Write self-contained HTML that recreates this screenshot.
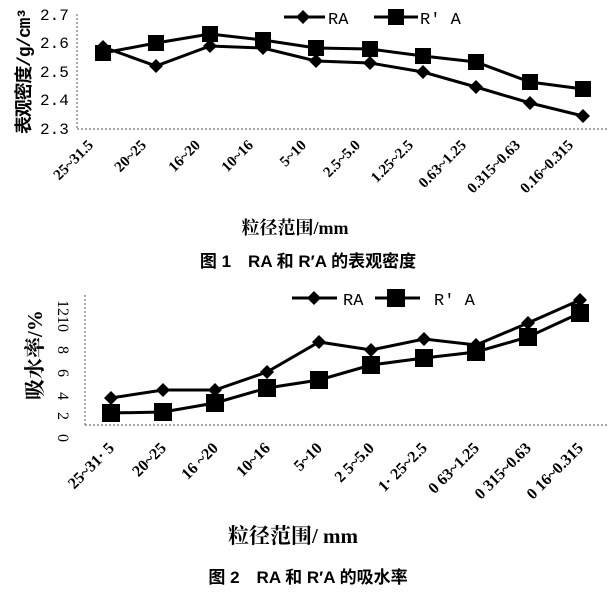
<!DOCTYPE html>
<html><head><meta charset="utf-8"><style>
html,body{margin:0;padding:0;background:#fff;}
svg{display:block;}
.m{font-family:"Liberation Mono","Noto Sans CJK SC",monospace;}
.s{font-family:"Liberation Serif","Noto Serif CJK SC",serif;}
.c{font-family:"Liberation Sans","Noto Sans CJK SC",sans-serif;font-weight:bold;}
</style></head><body>
<svg width="609" height="593" viewBox="0 0 609 593" xmlns="http://www.w3.org/2000/svg">
<!-- Chart 1 -->
<g stroke="#555" stroke-width="1" stroke-dasharray="2,2" fill="none">
<line x1="77" y1="14" x2="77" y2="129"/>
<line x1="77" y1="129" x2="609" y2="129"/>
</g>
<g class="m" font-size="16" fill="#000">
<text x="40" y="20">2.7</text><text x="40" y="48">2.6</text><text x="40" y="77">2.5</text><text x="40" y="105">2.4</text><text x="40" y="134">2.3</text>
</g>
<text class="m" font-size="18" font-weight="bold" transform="translate(30,134) rotate(-90)" fill="#000" textLength="126">表观密度/g/cm³</text>
<polyline fill="none" stroke="#000" stroke-width="3" points="103,47 156,66 210,46 263,48 316,61 370,63 423,72 476,87 530,103 583,116"/>
<polyline fill="none" stroke="#000" stroke-width="3" points="103,53 156,43 210,34 263,40 316,48 370,49 423,56 476,62 530,82 583,89"/>
<g fill="#000">
<path d="M103,40l7,7l-7,7l-7,-7z"/><path d="M156,59l7,7l-7,7l-7,-7z"/><path d="M210,39l7,7l-7,7l-7,-7z"/><path d="M263,41l7,7l-7,7l-7,-7z"/><path d="M316,54l7,7l-7,7l-7,-7z"/><path d="M370,56l7,7l-7,7l-7,-7z"/><path d="M423,65l7,7l-7,7l-7,-7z"/><path d="M476,80l7,7l-7,7l-7,-7z"/><path d="M530,96l7,7l-7,7l-7,-7z"/><path d="M583,109l7,7l-7,7l-7,-7z"/>
<rect x="95" y="45" width="16" height="16"/><rect x="148" y="35" width="16" height="16"/><rect x="202" y="26" width="16" height="16"/><rect x="255" y="32" width="16" height="16"/><rect x="308" y="40" width="16" height="16"/><rect x="362" y="41" width="16" height="16"/><rect x="415" y="48" width="16" height="16"/><rect x="468" y="54" width="16" height="16"/><rect x="522" y="74" width="16" height="16"/><rect x="575" y="81" width="16" height="16"/>
</g>
<line x1="284" y1="17" x2="325" y2="17" stroke="#000" stroke-width="3"/><path d="M303,10l7,7l-7,7l-7,-7z"/>
<text class="m" x="328" y="24" font-size="17">RA</text>
<line x1="374" y1="17" x2="418" y2="17" stroke="#000" stroke-width="3"/><rect x="388" y="9" width="16" height="16"/>
<text class="m" x="420" y="24" font-size="17">R′ A</text>
<g class="s" font-size="15" font-weight="bold" fill="#000" text-anchor="end">
<text transform="translate(94,146) rotate(-45)">25~31.5</text>
<text transform="translate(147,146) rotate(-45)">20~25</text>
<text transform="translate(201,146) rotate(-45)">16~20</text>
<text transform="translate(254,146) rotate(-45)">10~16</text>
<text transform="translate(307,146) rotate(-45)">5~10</text>
<text transform="translate(361,146) rotate(-45)">2.5~5.0</text>
<text transform="translate(414,146) rotate(-45)">1.25~2.5</text>
<text transform="translate(467,146) rotate(-45)">0.63~1.25</text>
<text transform="translate(521,146) rotate(-45)">0.315~0.63</text>
<text transform="translate(574,146) rotate(-45)">0.16~0.315</text>
</g>
<text class="s" x="295" y="234" font-size="18" font-weight="bold" text-anchor="middle">粒径范围/mm</text>
<text class="c" x="308" y="267" font-size="17" text-anchor="middle">图 1　RA 和 R′A 的表观密度</text>

<!-- Chart 2 -->
<g stroke="#555" stroke-width="1" stroke-dasharray="2,2" fill="none">
<line x1="85" y1="295" x2="85" y2="425"/>
<line x1="85" y1="425" x2="609" y2="425"/>
</g>
<g class="s" font-size="16" fill="#000">
<text transform="translate(58,300) rotate(90)">1210</text>
<text transform="translate(58,346) rotate(90)">8</text>
<text transform="translate(58,369) rotate(90)">6</text>
<text transform="translate(58,392) rotate(90)">4</text>
<text transform="translate(58,412) rotate(90)">2</text>
<text transform="translate(58,434) rotate(90)">0</text>
</g>
<text class="s" font-size="21" font-weight="bold" transform="translate(42,400) rotate(-90)" fill="#000">吸水率/%</text>
<polyline fill="none" stroke="#000" stroke-width="3" points="111,398 163,390 215,390 267,372 319,342 371,350 424,339 476,345 528,323 580,300"/>
<polyline fill="none" stroke="#000" stroke-width="3" points="111,413 163,412 215,403 267,388 319,380 371,365 424,358 476,352 528,337 580,313"/>
<g fill="#000">
<path d="M111,391l7,7l-7,7l-7,-7z"/><path d="M163,383l7,7l-7,7l-7,-7z"/><path d="M215,383l7,7l-7,7l-7,-7z"/><path d="M267,365l7,7l-7,7l-7,-7z"/><path d="M319,335l7,7l-7,7l-7,-7z"/><path d="M371,343l7,7l-7,7l-7,-7z"/><path d="M424,332l7,7l-7,7l-7,-7z"/><path d="M476,338l7,7l-7,7l-7,-7z"/><path d="M528,316l7,7l-7,7l-7,-7z"/><path d="M580,293l7,7l-7,7l-7,-7z"/>
<rect x="102" y="404" width="18" height="18"/><rect x="154" y="403" width="18" height="18"/><rect x="206" y="394" width="18" height="18"/><rect x="258" y="379" width="18" height="18"/><rect x="310" y="371" width="18" height="18"/><rect x="362" y="356" width="18" height="18"/><rect x="415" y="349" width="18" height="18"/><rect x="467" y="343" width="18" height="18"/><rect x="519" y="328" width="18" height="18"/><rect x="571" y="304" width="18" height="18"/>
</g>
<line x1="292" y1="298" x2="337" y2="298" stroke="#000" stroke-width="3"/><path d="M314,291l7,7l-7,7l-7,-7z"/>
<text class="m" x="343" y="305" font-size="17">RA</text>
<line x1="375" y1="298" x2="420" y2="298" stroke="#000" stroke-width="3"/><rect x="387" y="289" width="18" height="18"/>
<text class="m" x="434" y="305" font-size="17">R′ A</text>
<g class="s" font-size="16" font-weight="bold" fill="#000" text-anchor="end">
<text transform="translate(115,449) rotate(-45)">25~31· 5</text>
<text transform="translate(167,449) rotate(-45)">20~25</text>
<text transform="translate(219,449) rotate(-45)">16 ~20</text>
<text transform="translate(271,449) rotate(-45)">10~16</text>
<text transform="translate(323,449) rotate(-45)">5~10</text>
<text transform="translate(375,449) rotate(-45)">2 5~5.0</text>
<text transform="translate(428,449) rotate(-45)">1· 25~2.5</text>
<text transform="translate(480,449) rotate(-45)">0 63~1.25</text>
<text transform="translate(532,449) rotate(-45)">0 315~0.63</text>
<text transform="translate(584,449) rotate(-45)">0 16~0.315</text>
</g>
<text class="s" x="293" y="543" font-size="21" font-weight="bold" text-anchor="middle">粒径范围/ mm</text>
<text class="c" x="308" y="583" font-size="17" text-anchor="middle">图 2　RA 和 R′A 的吸水率</text>
</svg>
</body></html>
